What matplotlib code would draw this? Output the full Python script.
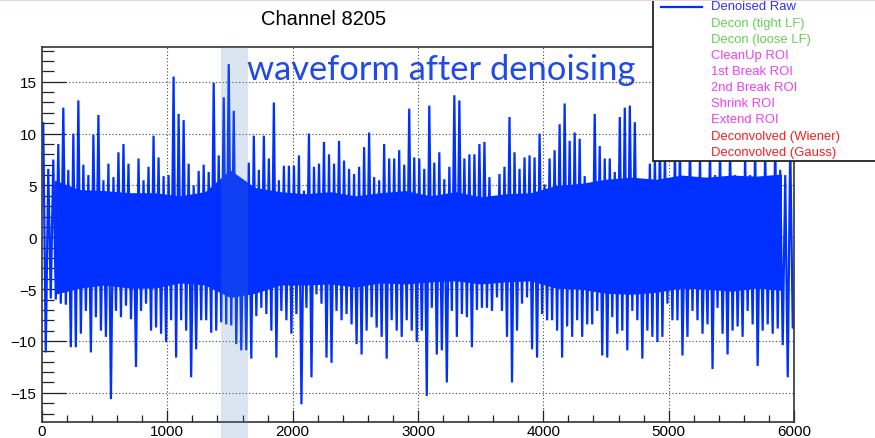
import numpy as np
import matplotlib
matplotlib.use("Agg")
import matplotlib.pyplot as plt
from matplotlib.ticker import MultipleLocator
from matplotlib.patches import Rectangle
from matplotlib.lines import Line2D
from matplotlib import transforms

# envelope of the denoised waveform, one (high, low) pair per 40 ticks
hi_vals = [
    11.0, 6.6, 7.5, 9.0, 12.5, 6.5, 10.0, 13.2, 7.0, 6.0, 9.9, 11.8, 5.5, 7.1, 5.8, 8.2, 9.0, 7.1, 3.5, 7.6, 5.5, 6.8, 9.8, 7.7, 5.9,
    6.0, 15.5, 11.9, 11.3, 7.1, 5.0, 6.4, 7.0, 6.3, 14.9, 7.9, 13.5, 16.7, 12.2, 5.5, 4.5, 7.2, 9.8, 6.5, 9.8, 7.6, 13.0, 5.5, 6.9, 6.9,
    6.9, 7.9, 4.5, 10.0, 6.8, 7.1, 9.2, 8.0, 7.1, 9.3, 7.4, 6.6, 6.1, 6.8, 8.7, 10.1, 5.8, 5.5, 9.0, 7.6, 7.6, 8.4, 7.0, 12.4, 7.7,
    7.6, 6.6, 12.7, 7.2, 8.2, 5.6, 6.8, 13.7, 13.2, 7.6, 8.0, 8.0, 9.0, 9.2, 5.8, 3.5, 6.1, 6.8, 11.6, 8.2, 6.6, 7.7, 7.9, 7.7, 10.0,
    5.1, 7.6, 8.4, 10.9, 12.9, 9.3, 10.1, 9.5, 5.9, 5.1, 11.9, 8.8, 7.6, 7.6, 6.3, 11.6, 12.5, 12.7, 11.1, 5.6, 5.6, 7.1, 8.0, 9.5, 8.5,
    5.5, 8.5, 9.0, 3.0, 9.5, 5.0, 8.0, 2.0, 9.0, 6.0, 8.5, 4.5, 9.0, 6.0, 3.5, 8.0, 6.0, 9.0, 5.0, 8.5, 5.5, 9.5, 6.5, 6.0, 9.0,
]
lo_vals = [
    -11.1, -5.9, -6.0, -6.4, -6.5, -10.6, -10.6, -9.3, -7.1, -11.1, -7.7, -9.0, -9.6, -15.6, -7.1, -7.7, -6.6, -7.9, -12.5, -7.1, -6.4, -9.0, -8.7, -9.3, -10.1,
    -8.0, -11.6, -8.0, -9.0, -13.5, -10.8, -8.0, -8.0, -9.2, -9.0, -8.2, -8.4, -8.5, -10.3, -10.9, -10.9, -11.7, -7.6, -6.8, -7.4, -9.0, -11.6, -7.1, -8.0, -9.3,
    -7.4, -16.1, -6.8, -13.5, -5.5, -6.4, -11.6, -12.1, -7.1, -8.0, -7.4, -8.4, -10.3, -11.3, -9.0, -7.7, -8.7, -9.6, -11.7, -8.0, -9.0, -9.6, -8.0, -9.0, -10.1,
    -9.0, -15.3, -6.8, -11.3, -10.9, -14.0, -7.1, -9.6, -7.4, -7.7, -10.6, -7.0, -6.8, -6.8, -7.1, -5.8, -7.1, -9.6, -14.0, -9.0, -6.4, -5.8, -10.8, -11.6, -7.4,
    -8.0, -8.0, -9.0, -11.6, -8.6, -9.6, -8.0, -9.6, -8.4, -8.4, -7.1, -11.4, -11.6, -7.7, -9.3, -9.0, -10.9, -7.1, -8.0, -11.7, -9.0, -9.6, -10.1, -9.6, -6.4,
    -8.0, -8.0, -11.4, -9.6, -7.1, -8.0, -9.3, -8.4, -12.7, -6.8, -9.3, -11.3, -9.0, -8.6, -9.6, -7.1, -8.4, -12.4, -9.0, -8.4, -9.3, -8.8, -10.4, -13.5, -8.7,
]
# dense part of the trace, one value per 200 ticks
core_hi = [5.5, 4.6, 4.5, 4.3, 4.3, 4.0, 4.4, 6.5, 4.8, 4.4,
           4.2, 4.4, 4.0, 4.3, 4.5, 4.0, 4.4, 3.9, 4.2, 4.3,
           5.0, 5.2, 5.6, 5.8, 5.6, 6.0, 5.8, 6.0, 5.9, 6.1]
core_lo = [-5.5, -4.9, -4.6, -4.9, -4.9, -4.4, -4.6, -5.8, -5.4, -4.6,
           -4.6, -4.5, -4.8, -4.4, -4.5, -4.3, -4.2, -4.5, -4.3, -4.2,
           -4.9, -5.0, -5.4, -5.5, -5.3, -4.9, -5.0, -5.2, -4.9, -5.1]
n_ticks = 6000
roi = (1430, 1642)

legend_labels = ["Denoised Raw", "Decon (tight LF)", "Decon (loose LF)", "CleanUp ROI",
                 "1st Break ROI", "2nd Break ROI", "Shrink ROI", "Extend ROI",
                 "Deconvolved (Wiener)", "Deconvolved (Gauss)"]
legend_colors = ["#2a35f2", "#66cf55", "#66cf55", "#f23ff2", "#f23ff2", "#f23ff2",
                 "#f23ff2", "#f23ff2", "#f22020", "#f22020"]

blue = "#0030ff"
wave = np.column_stack([hi_vals, lo_vals]).ravel()
step = n_ticks / len(wave)
ticks = np.arange(len(wave)) * step + step / 2
core_step = n_ticks / len(core_hi)
core_x = np.arange(len(core_hi)) * core_step + core_step / 2

W, H = 875, 439
fig = plt.figure(figsize=(W / 100, H / 100), dpi=100)
ax = fig.add_axes([42 / W, 1 - 423.3 / H, 752 / W, 375.6 / H])

ax.fill_between(core_x, core_lo, core_hi, color=blue, lw=0, zorder=2)
ax.plot(ticks, wave, color=blue, lw=1.6, solid_joinstyle="bevel", zorder=2)
ax.set_xlim(0, n_ticks)
ax.set_ylim(-17.84, 18.38)

ax.xaxis.set_major_locator(MultipleLocator(1000))
ax.xaxis.set_minor_locator(MultipleLocator(200))
ax.yaxis.set_major_locator(MultipleLocator(5))
ax.yaxis.set_minor_locator(MultipleLocator(1))

# dotted grid under the trace
for xv in ax.get_xticks():
    if 0 < xv < n_ticks:
        ax.axvline(xv, color="#444444", lw=0.8, ls=(0, (1, 2)), zorder=1)
for yv in ax.get_yticks():
    ax.axhline(yv, color="#444444", lw=0.8, ls=(0, (1, 2)), zorder=1)

ax.tick_params(which="both", direction="in", top=False, right=False, width=0.9, color="#222222")
ax.tick_params(axis="x", which="major", length=8.5, pad=1.5, labelsize=11)
ax.tick_params(axis="x", which="minor", length=4.8)
ax.tick_params(axis="y", which="major", length=17, pad=4, labelsize=11)
ax.tick_params(axis="y", which="minor", length=8.6)
for lab in ax.get_xticklabels() + ax.get_yticklabels():
    lab.set_fontfamily("Liberation Sans")
for sp in ax.spines.values():
    sp.set_color("#333333")
    sp.set_linewidth(1.2)

# highlighted region
tr = transforms.blended_transform_factory(ax.transData, fig.transFigure)
ax.add_patch(Rectangle((roi[0], 0), roi[1] - roi[0], 1 - 47.7 / H, transform=tr,
                       facecolor="#4f81bd", alpha=0.2, lw=0, clip_on=False, zorder=3))

fig.text(247 / W, 1 - 80 / H, "waveform after denoising", family="Lato",
         fontsize=24.8, color="#2049e8", va="baseline", ha="left")
fig.text(323.7 / W, 1 - 25 / H, "Channel 8205", family="Liberation Sans",
         fontsize=14.5, color="black", va="baseline", ha="center")

# legend box
fig.add_artist(Rectangle((653 / W, 1 - 162 / H), 0.4, 0.5, transform=fig.transFigure,
                         facecolor="white", edgecolor="#222222", lw=1.3, zorder=5))
fig.add_artist(Line2D([661 / W, 702 / W], [1 - 8 / H] * 2, transform=fig.transFigure,
                      color=blue, lw=1.6, zorder=6))
for i, (lab, col) in enumerate(zip(legend_labels, legend_colors)):
    fig.text(711 / W, 1 - (7.5 + 16.13 * i) / H, lab, family="Liberation Sans",
             fontsize=9.4, color=col, va="center", ha="left", zorder=7)

fig.add_artist(Rectangle((0, 1 - 2 / H), 1, 2 / H, transform=fig.transFigure,
                         facecolor="#e8d3d8", lw=0, zorder=8))

fig.savefig("out.png", dpi=100)
